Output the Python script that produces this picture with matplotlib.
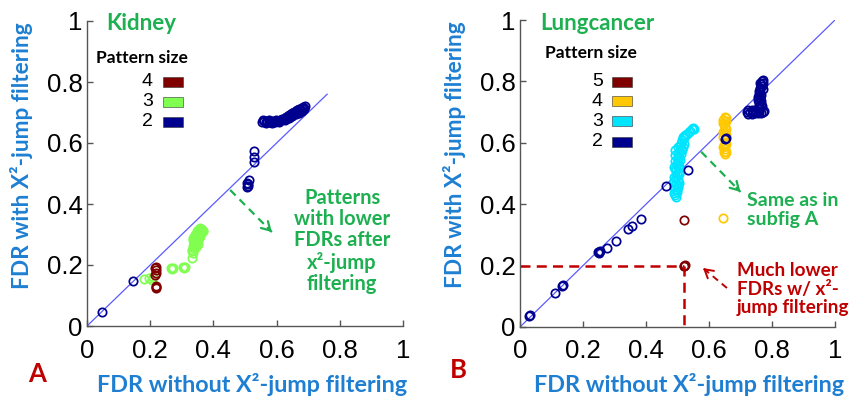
import matplotlib
matplotlib.use("Agg")
import matplotlib.pyplot as plt
from matplotlib.patches import Rectangle

# ---------------- data ----------------
ticks = [0, 0.2, 0.4, 0.6, 0.8, 1]
tick_labels = ["0", "0.2", "0.4", "0.6", "0.8", "1"]

# Kidney
kid2_x = [0.047, 0.145, 0.505, 0.510, 0.505, 0.512, 0.508, 0.528, 0.528, 0.528,
          0.555, 0.560, 0.565, 0.570, 0.575, 0.580, 0.585, 0.590, 0.595, 0.600,
          0.605, 0.610, 0.615, 0.620, 0.625, 0.630, 0.635, 0.640, 0.645, 0.650,
          0.655, 0.660, 0.665, 0.670, 0.675, 0.680, 0.685, 0.690,
          0.640, 0.650, 0.660, 0.670, 0.680, 0.688,
          0.557, 0.567, 0.577, 0.587, 0.597, 0.607, 0.617, 0.627, 0.637, 0.647,
          0.657, 0.667, 0.677, 0.687]
kid2_y = [0.046, 0.148, 0.470, 0.460, 0.455, 0.478, 0.465, 0.574, 0.555, 0.538,
          0.668, 0.672, 0.668, 0.672, 0.668, 0.671, 0.669, 0.672, 0.670, 0.673,
          0.671, 0.675, 0.674, 0.678, 0.680, 0.684, 0.688, 0.692, 0.696, 0.700,
          0.702, 0.705, 0.707, 0.710, 0.712, 0.715, 0.718, 0.722,
          0.682, 0.690, 0.696, 0.700, 0.706, 0.712,
          0.674, 0.666, 0.674, 0.666, 0.675, 0.668, 0.679, 0.676, 0.682, 0.690,
          0.698, 0.703, 0.708, 0.716]
kid3_x = [0.181, 0.195, 0.205, 0.210, 0.268, 0.272, 0.306, 0.310, 0.331, 0.336,
          0.332, 0.335, 0.338, 0.340, 0.335, 0.345, 0.348, 0.350, 0.355, 0.360,
          0.365, 0.362, 0.367, 0.340, 0.345, 0.355, 0.342, 0.358,
          0.333, 0.338, 0.343, 0.348, 0.352, 0.357, 0.362, 0.366, 0.337, 0.347,
          0.352, 0.358, 0.343, 0.350, 0.265, 0.303]
kid3_y = [0.154, 0.158, 0.151, 0.160, 0.186, 0.190, 0.190, 0.195, 0.222, 0.238,
          0.250, 0.262, 0.272, 0.280, 0.290, 0.285, 0.295, 0.300, 0.305, 0.310,
          0.315, 0.318, 0.312, 0.268, 0.258, 0.290, 0.300, 0.300,
          0.245, 0.255, 0.265, 0.275, 0.285, 0.295, 0.305, 0.310, 0.283, 0.310,
          0.315, 0.320, 0.300, 0.270, 0.190, 0.195]
kid4_x = [0.217, 0.215, 0.219, 0.217, 0.216, 0.217, 0.218, 0.219]
kid4_y = [0.195, 0.190, 0.182, 0.175, 0.168, 0.130, 0.124, 0.128]

# Lungcancer
lung2_x = [0.030, 0.032, 0.111, 0.133, 0.136, 0.250, 0.252, 0.255, 0.248, 0.275,
           0.305, 0.344, 0.355, 0.383, 0.463, 0.532, 0.651, 0.655,
           0.770, 0.768, 0.765, 0.762, 0.760, 0.758, 0.757, 0.757, 0.758, 0.758,
           0.760, 0.765, 0.765, 0.768, 0.772, 0.763,
           0.720, 0.725, 0.730, 0.735, 0.740, 0.745, 0.750, 0.755, 0.760, 0.765,
           0.770, 0.775, 0.725, 0.735, 0.745,
           0.767, 0.770, 0.762, 0.764, 0.760, 0.755, 0.762]
lung2_y = [0.037, 0.040, 0.110, 0.133, 0.137, 0.240, 0.245, 0.248, 0.243, 0.256,
           0.281, 0.319, 0.329, 0.351, 0.460, 0.510, 0.612, 0.615,
           0.805, 0.800, 0.790, 0.780, 0.770, 0.760, 0.750, 0.740, 0.730, 0.720,
           0.710, 0.755, 0.735, 0.720, 0.795, 0.765,
           0.700, 0.695, 0.700, 0.695, 0.700, 0.697, 0.700, 0.697, 0.700, 0.697,
           0.700, 0.703, 0.707, 0.708, 0.706,
           0.785, 0.775, 0.745, 0.725, 0.715, 0.705, 0.795]
lung3_x = [0.495, 0.490, 0.498, 0.492, 0.500, 0.495, 0.490, 0.500, 0.495, 0.498,
           0.495, 0.500, 0.497, 0.500, 0.502, 0.500, 0.505, 0.510, 0.508, 0.512,
           0.515, 0.520, 0.518, 0.525, 0.530, 0.535, 0.540, 0.545, 0.550, 0.553,
           0.505, 0.490, 0.492, 0.505, 0.490,
           0.493, 0.497, 0.503, 0.490, 0.505, 0.493, 0.506, 0.498, 0.508, 0.505,
           0.512, 0.515, 0.518, 0.522, 0.493, 0.492, 0.500]
lung3_y = [0.425, 0.435, 0.440, 0.450, 0.455, 0.465, 0.475, 0.480, 0.490, 0.500,
           0.510, 0.520, 0.530, 0.540, 0.550, 0.560, 0.570, 0.580, 0.590, 0.600,
           0.610, 0.615, 0.620, 0.625, 0.630, 0.635, 0.640, 0.645, 0.648, 0.645,
           0.500, 0.520, 0.540, 0.470, 0.460,
           0.430, 0.445, 0.462, 0.490, 0.505, 0.515, 0.525, 0.535, 0.545, 0.555,
           0.565, 0.575, 0.585, 0.595, 0.560, 0.575, 0.585]
lung4_x = [0.650, 0.645, 0.655, 0.648, 0.652, 0.648, 0.650, 0.655, 0.645, 0.650,
           0.648, 0.652, 0.648, 0.650, 0.646,
           0.655, 0.645, 0.655, 0.645, 0.655, 0.645, 0.655]
lung4_y = [0.685, 0.675, 0.670, 0.660, 0.650, 0.640, 0.630, 0.625, 0.620, 0.600,
           0.590, 0.580, 0.570, 0.565, 0.354,
           0.680, 0.665, 0.645, 0.635, 0.595, 0.585, 0.570]
lung5_x = [0.521, 0.523, 0.520, 0.521]
lung5_y = [0.199, 0.201, 0.200, 0.350]

kid_sizes = ["4", "3", "2"]
lung_sizes = ["5", "4", "3", "2"]

# ---------------- style ----------------
NAVY = "#00008F"
LGREEN = "#80FF50"
DRED = "#800000"
GOLD = "#FFC800"
CYAN = "#00E5FF"
TXT_GREEN = "#1DB050"
LBL_BLUE = "#1E7FD2"
RED = "#C00000"
LINE = "#5A5AFF"
CAL = ["Lato", "DejaVu Sans"]
ARIAL = ["Liberation Sans", "DejaVu Sans"]

W, H = 850, 398
fig = plt.figure(figsize=(8.5, 3.98), dpi=100)


def fx(x):
    return x / W


def fy(y):
    return 1 - y / H


def make_axes(x0, x1, y0, y1):
    ax = fig.add_axes([fx(x0), fy(y0), fx(x1) - fx(x0), fy(y1) - fy(y0)])
    ax.set_xlim(0, 1)
    ax.set_ylim(0, 1)
    for s in ["top", "right"]:
        ax.spines[s].set_visible(False)
    for s in ["left", "bottom"]:
        ax.spines[s].set_color("#555555")
        ax.spines[s].set_linewidth(1.0)
    ax.set_xticks(ticks)
    ax.set_yticks(ticks)
    ax.set_xticklabels(tick_labels, fontfamily=ARIAL, fontsize=18.5)
    ax.set_yticklabels(tick_labels, fontfamily=ARIAL, fontsize=18.5)
    ax.tick_params(direction="in", length=4, width=1, color="#555555",
                   labelcolor="black")
    ax.tick_params(axis="x", pad=9)
    ax.tick_params(axis="y", pad=3)
    ax.patch.set_alpha(0)
    return ax


def circles(ax, x, y, c):
    ax.plot(x, y, linestyle="none", marker="o", ms=6, mfc="none", mec=c,
            mew=1.25, clip_on=False)


def dashed_arrow(ax, x0, y0, x1, y1, c, lw=1.6):
    ax.plot([x0, x1], [y0, y1], color=c, lw=lw, ls=(0, (3.5, 2.5)))
    ax.annotate("", xy=(x1, y1), xytext=(x0 + 0.9 * (x1 - x0), y0 + 0.9 * (y1 - y0)),
                arrowprops=dict(arrowstyle="->,head_length=0.6,head_width=0.35",
                                color=c, lw=lw, shrinkA=0, shrinkB=0))


# ---------------- panel A ----------------
axA = make_axes(87, 403, 326, 21)
axA.plot([0, 0.76], [0, 0.76], color=LINE, lw=0.9)
circles(axA, kid3_x, kid3_y, LGREEN)
circles(axA, kid4_x, kid4_y, DRED)
circles(axA, kid2_x, kid2_y, NAVY)
dashed_arrow(axA, 0.453, 0.446, 0.585, 0.308, TXT_GREEN)

fig.text(fx(141), fy(23), "Kidney", color=TXT_GREEN, fontsize=16,
         fontweight="bold", family=CAL, ha="center", va="center")
fig.text(fx(142), fy(58), "Pattern size", color="black", fontsize=12.5,
         fontweight="bold", family=CAL, ha="center", va="center")
for lab, col, yy in zip(kid_sizes, [DRED, LGREEN, NAVY], [82, 102, 122]):
    fig.text(fx(153), fy(yy), lab, fontsize=14, family=ARIAL, ha="right",
             va="center")
    fig.add_artist(Rectangle((fx(163), fy(yy + 4.5)), fx(20), 9 / H,
                             transform=fig.transFigure, facecolor=col,
                             edgecolor="#333333", lw=0.4))
fig.text(fx(342), fy(241), "Patterns\nwith lower\nFDRs after\nx\u00b2-jump\nfiltering",
         color=TXT_GREEN, fontsize=14.5, fontweight="bold", family=CAL,
         ha="center", va="center", multialignment="center", linespacing=1.09)
fig.text(fx(37), fy(374), "A", color=RED, fontsize=18.5, fontweight="bold",
         family=CAL, ha="center", va="center")
fig.text(fx(252), fy(384), "FDR without X\u00b2-jump filtering", color=LBL_BLUE,
         fontsize=16.8, fontweight="bold", family=CAL, ha="center", va="center")
fig.text(fx(22), fy(156), "FDR with X\u00b2-jump filtering", color=LBL_BLUE,
         fontsize=16.3, fontweight="bold", family=CAL, ha="center", va="center",
         rotation=90)

# ---------------- panel B ----------------
axB = make_axes(520, 835, 327, 20)
axB.plot([0, 1], [0, 1], color=LINE, lw=0.9)
circles(axB, lung3_x, lung3_y, CYAN)
circles(axB, lung4_x, lung4_y, GOLD)
circles(axB, lung2_x, lung2_y, NAVY)
circles(axB, lung5_x, lung5_y, DRED)
axB.plot([0, 0.521], [0.2, 0.2], color=RED, lw=1.8, ls=(0, (4, 2.5)))
axB.plot([0.521, 0.521], [0.2, 0], color=RED, lw=1.8, ls=(0, (4, 2.5)))
dashed_arrow(axB, 0.575, 0.571, 0.70, 0.44, TXT_GREEN)
dashed_arrow(axB, 0.657, 0.127, 0.581, 0.192, RED, lw=1.4)

fig.text(fx(597), fy(24), "Lungcancer", color=TXT_GREEN, fontsize=16,
         fontweight="bold", family=CAL, ha="center", va="center")
fig.text(fx(591), fy(53), "Pattern size", color="black", fontsize=12.5,
         fontweight="bold", family=CAL, ha="center", va="center")
for lab, col, yy in zip(lung_sizes, [DRED, GOLD, CYAN, NAVY], [82, 101, 121, 142]):
    fig.text(fx(603), fy(yy), lab, fontsize=14, family=ARIAL, ha="right",
             va="center")
    fig.add_artist(Rectangle((fx(612), fy(yy + 4.5)), fx(20), 9 / H,
                             transform=fig.transFigure, facecolor=col,
                             edgecolor="#333333", lw=0.4))
fig.text(fx(747), fy(210), "Same as in\nsubfig A", color=TXT_GREEN, fontsize=14,
         fontweight="bold", family=CAL, ha="left", va="center", linespacing=1.09)
fig.text(fx(737), fy(289), "Much lower\nFDRs w/ x\u00b2-\njump filtering", color=RED,
         fontsize=13.6, fontweight="bold", family=CAL, ha="left", va="center",
         linespacing=1.12)
fig.text(fx(458), fy(370), "B", color=RED, fontsize=18.5, fontweight="bold",
         family=CAL, ha="center", va="center")
fig.text(fx(689), fy(384), "FDR without X\u00b2-jump filtering", color=LBL_BLUE,
         fontsize=16.8, fontweight="bold", family=CAL, ha="center", va="center")
fig.text(fx(455), fy(155), "FDR with X\u00b2-jump filtering", color=LBL_BLUE,
         fontsize=16.3, fontweight="bold", family=CAL, ha="center", va="center",
         rotation=90)

fig.savefig("out.png", dpi=100, facecolor="white")
